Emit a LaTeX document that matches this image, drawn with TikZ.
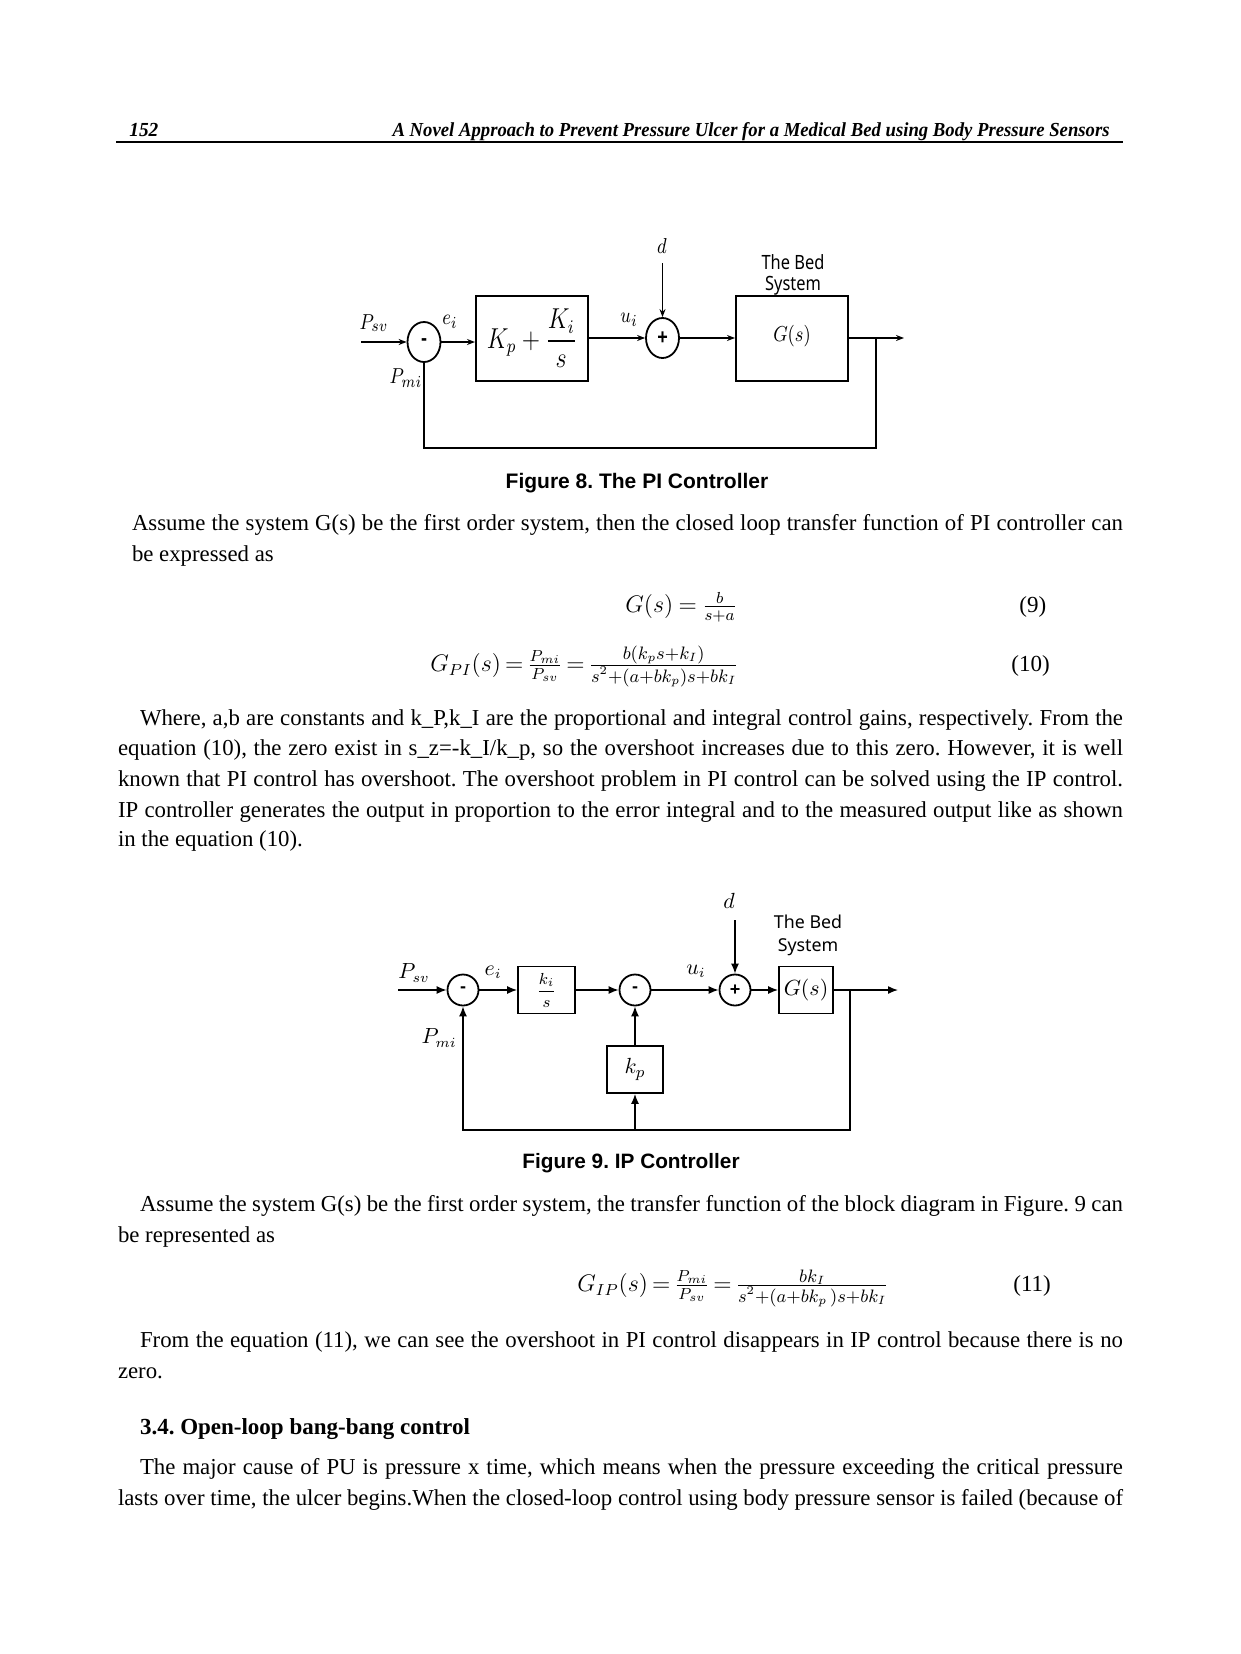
\documentclass[tikz,border=0pt]{standalone}
\usepackage{amsmath}
\usepackage{graphicx}
\usepackage{fontspec}
\setmainfont{Liberation Serif}
\newfontfamily\capfont{Liberation Sans}
\newfontfamily\bedfont{Noto Sans}
\usetikzlibrary{arrows.meta,shapes.geometric}
\newcommand{\vst}[1]{\scalebox{1}[1.2]{#1}}
\newcommand{\sgn}[1]{{\capfont\bfseries\fontsize{9}{10}\selectfont #1}}
\newcommand{\bigfr}[2]{\frac{\text{\fontsize{9}{10}\selectfont\medmuskip=0mu$#1$}}{\text{\fontsize{9}{10}\selectfont\medmuskip=0mu$#2$}}}
\newcommand{\pfr}{\frac{P_{mi}\rule[-1.5pt]{0pt}{0pt}}{P_{sv}}}
\tikzset{
  txt/.style={anchor=mid west,inner sep=0,outer sep=0,font=\fontsize{11.4}{13}\selectfont},
  captxt/.style={anchor=mid,inner sep=0,font=\capfont\bfseries\fontsize{10.5}{12}\selectfont},
  eqtxt/.style={anchor=mid west,inner sep=0,font=\fontsize{12}{14}\selectfont},
  eqnum/.style={anchor=mid west,inner sep=0,font=\fontsize{11.5}{13}\selectfont},
  ln8/.style={line width=0.7pt},
  ar8/.style={ln8,-{Stealth[length=4pt,width=3pt]}},
  ln9/.style={line width=0.7pt},
  ar9/.style={ln9,-{Latex[length=5pt,width=4pt]}},
  blk8/.style={draw,line width=1pt,minimum width=56pt,minimum height=42.5pt,inner sep=0},
  sum8/.style={draw,ellipse,line width=0.9pt,minimum width=16.5pt,minimum height=20pt,inner sep=0},
  sum9/.style={draw,circle,line width=0.9pt,minimum size=15.5pt,inner sep=0},
  blk9/.style={draw,line width=0.9pt,inner sep=0,minimum height=23.5pt},
  lab8/.style={inner sep=0,font=\fontsize{9.5}{11}\selectfont},
  lab9/.style={inner sep=0,font=\fontsize{10.5}{12}\selectfont},
  bed8/.style={inner sep=0,font=\bedfont\fontsize{8.2}{10}\selectfont},
  bed9/.style={inner sep=0,font=\bedfont\fontsize{8.9}{10}\selectfont},
}
\begin{document}
\frenchspacing
\begin{tikzpicture}[x=0.5pt,y=-0.5pt]
\useasboundingbox (0,0) rectangle (1241,1654);
\fill[white] (0,0) rectangle (1241,1654);

% header
\node[anchor=base west,inner sep=0] (pg) at (129,136) {\resizebox{14.5pt}{6.6pt}{\bfseries\itshape 152}};
\node[anchor=base east,inner sep=0] (ttl) at (1110,136) {\resizebox{358.5pt}{7pt}{\bfseries\itshape A Novel Approach to Prevent Pressure Ulcer for a Medical Bed using Body Pressure Sensors}};
\draw[line width=1.2pt] (116,142) -- (1123,142);

% ---------------- Figure 8 ----------------
\node[sum8] (s1) at (424,342) {\sgn{\vst{-}}};
\node[blk8] (b1) at (532,338.5) {\fontsize{12}{14}\selectfont\vst{$K_p+\dfrac{K_i}{s}$}};
\node[sum8] (s2) at (662.5,338) {\sgn{\vst{+}}};
\node[blk8] (g1) at (792,338.5) {};
\node[lab8] (g1t) at (792,336) {\vst{$G(s)$}};
\coordinate (in8) at (361,342);
\coordinate (out8) at (904,338);
\coordinate (d8) at (662.5,263);
\coordinate (fb8) at (876,338);
\coordinate (fb8b) at (876,448);
\draw[ar8] (in8) -- (s1.west);
\draw[ar8] (s1.east) -- (s1.east -| b1.west);
\draw[ar8] (b1.east |- s2) -- (s2.west);
\draw[ar8] (s2.east) -- (s2.east -| g1.west);
\draw[ar8] (g1.east |- out8) -- (out8);
\draw[ar8] (d8) -- (s2.north);
\draw[ln8] (fb8) -- (fb8b) -| (s1.south);
\node[lab8] (psv8) at (374,323) {\vst{$P_{sv}$}};
\node[lab8] (ei8) at (450,322) {\vst{$e_i$}};
\node[lab8] (pmi8) at (406,378) {\vst{$P_{mi}$}};
\node[lab8] (ui8) at (629,320) {\vst{$u_i$}};
\node[lab8] (dl8) at (662,246) {\vst{$d$}};
\node[bed8] (bedA8) at (793,262) {\vst{The Bed}};
\node[bed8] (bedB8) at (793,286) {\vst{System}};
\node[captxt] (c8) at (637,484) {Figure 8. The PI Controller};

% ---------------- text ----------------
\node[txt] (p1a) at (132,525.5) {\makebox[495.5pt][s]{Assume the system G(s) be the first order system, then the closed loop transfer function of PI controller can}};
\node[txt] (p1b) at (132,557) {be expressed as};

\node[eqtxt] (e9) at (625,608) {\thickmuskip=4mu$G(s)=\frac{b}{s+a}$};
\node[eqnum] (n9) at (1019,608) {(9)};
\node[eqtxt] (e10) at (430,667) {\thickmuskip=3mu$G_{PI}(s)=\pfr=\bigfr{b(k_ps+k_I)}{s^2+(a+bk_p)s+bk_I}$};
\node[eqnum] (n10) at (1011,667) {(10)};

\node[txt] (p2a) at (140,721) {\makebox[491.5pt][s]{Where, a,b are constants and k\_P,k\_I are the proportional and integral control gains, respectively. From the}};
\node[txt] (p2b) at (118,751) {\makebox[502.5pt][s]{equation (10), the zero exist in s\_z=-k\_I/k\_p, so the overshoot increases due to this zero. However, it is well}};
\node[txt] (p2c) at (118,782) {\makebox[502.5pt][s]{known that PI control has overshoot. The overshoot problem in PI control can be solved using the IP control.}};
\node[txt] (p2d) at (118,813) {\makebox[502.5pt][s]{IP controller generates the output in proportion to the error integral and to the measured output like as shown}};
\node[txt] (p2e) at (118,842) {in the equation (10).};

% ---------------- Figure 9 ----------------
\node[sum9] (t1) at (463,990) {\sgn{-}};
\node[blk9,minimum width=28.5pt] (ki) at (546.5,990) {\fontsize{8.5}{10}\selectfont$\dfrac{k_i}{s}$};
\node[sum9] (t2) at (635,990) {\sgn{-}};
\node[sum9] (t3) at (735,990) {\sgn{+}};
\node[blk9,minimum width=27pt] (g2) at (806,990) {\fontsize{11}{13}\selectfont$G(s)$};
\node[blk9,minimum width=28pt] (kp) at (635,1069.5) {\fontsize{11}{13}\selectfont$k_p$};
\coordinate (in9) at (398,990);
\coordinate (out9) at (898,990);
\coordinate (d9) at (735,920);
\coordinate (fb9) at (850,990);
\coordinate (fb9b) at (850,1130);
\coordinate (br9) at (635,1130);
\draw[ar9] (in9) -- (t1.west);
\draw[ar9] (t1.east) -- (ki.west);
\draw[ar9] (ki.east) -- (t2.west);
\draw[ar9] (t2.east) -- (t3.west);
\draw[ar9] (t3.east) -- (g2.west);
\draw[ar9] (g2.east) -- (out9);
\draw[ar9] (d9) -- (t3.north);
\draw[ln9] (fb9) -- (fb9b) -- (br9);
\draw[ar9] (br9) -| (t1.south);
\draw[ar9] (br9) -- (kp.south);
\draw[ar9] (kp.north) -- (t2.south);
\node[lab9] (psv9) at (414,973) {$P_{sv}$};
\node[lab9] (ei9) at (493,972) {$e_i$};
\node[lab9] (ui9) at (696,971) {$u_i$};
\node[lab9] (dl9) at (729,901) {$d$};
\node[lab9] (pmi9) at (439,1038) {$P_{mi}$};
\node[bed9] (bedA9) at (808,922) {The Bed};
\node[bed9] (bedB9) at (808,947) {System};
\node[captxt,font=\capfont\bfseries\fontsize{10.4}{12}\selectfont] (c9) at (631,1164) {Figure 9. IP Controller};

% ---------------- text ----------------
\node[txt] (p3a) at (140,1207) {\makebox[491.5pt][s]{Assume the system G(s) be the first order system, the transfer function of the block diagram in Figure. 9 can}};
\node[txt] (p3b) at (118,1238) {be represented as};

\node[eqtxt] (e11) at (577,1287) {\thickmuskip=3mu$G_{IP}(s)=\pfr=\bigfr{bk_I}{s^2+(a+bk_p\,)s+bk_I}$};
\node[eqnum] (n11) at (1013,1287) {(11)};

\node[txt] (p4a) at (140,1343) {\makebox[491.5pt][s]{From the equation (11), we can see the overshoot in PI control disappears in IP control because there is no}};
\node[txt] (p4b) at (118,1374) {zero.};
\node[txt,font=\bfseries\fontsize{11.5}{13}\selectfont] (h34) at (140,1430) {3.4. Open-loop bang-bang control};
\node[txt] (p5a) at (140,1470) {\makebox[491.5pt][s]{The major cause of PU is pressure x time, which means when the pressure exceeding the critical pressure}};
\node[txt] (p5b) at (118,1501) {\makebox[502.5pt][s]{lasts over time, the ulcer begins.When the closed-loop control using body pressure sensor is failed (because of}};
\end{tikzpicture}
\end{document}
